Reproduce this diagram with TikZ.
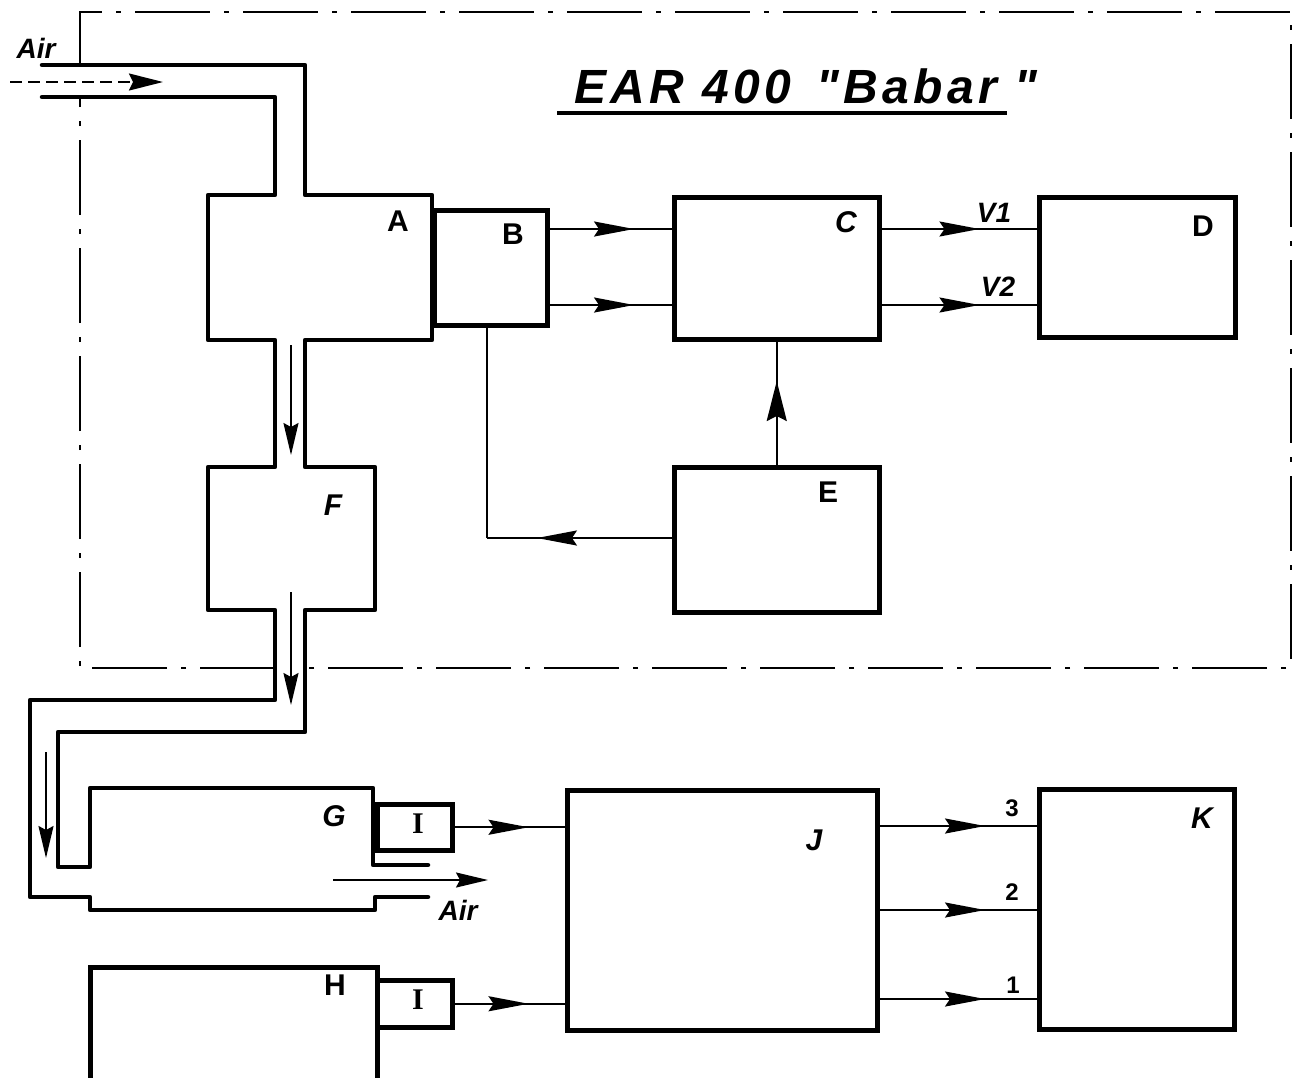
\documentclass[tikz,border=0pt]{standalone}
\usepackage{fontspec}
\setmainfont{Liberation Sans}
\newfontfamily\serifI{Liberation Serif}
\newfontfamily\titlefont[LetterSpace=9]{Liberation Sans}
\usetikzlibrary{arrows.meta,decorations.markings,calc}
\begin{document}
\begin{tikzpicture}[x=1pt,y=-1pt,
  wall/.style={line width=4.5pt, line join=round, line cap=round},
  box/.style={draw, line width=4.5pt, rectangle, inner sep=0pt, anchor=north west},
  area/.style={rectangle, inner sep=0pt, anchor=north west},
  conn/.style={line width=2pt},
  midarrow/.style={postaction={decorate}, decoration={markings, mark=at position #1 with {\arrow{Stealth[length=40pt,width=15pt,inset=5pt]}}}},
  flow/.style={line width=2pt, -{Stealth[length=32pt,width=15pt,inset=4pt]}},
  lbl/.style={font=\fontsize{30}{30}\selectfont\bfseries, inner sep=0pt},
  ilbl/.style={font=\fontsize{30}{30}\selectfont\bfseries\itshape, inner sep=0pt},
  small/.style={font=\fontsize{24}{24}\selectfont\bfseries, inner sep=0pt},
  airlbl/.style={font=\fontsize{28}{28}\selectfont\bfseries\itshape, inner sep=0pt},
  frameline/.style={line width=2.5pt, dash pattern=on 75pt off 14pt on 5pt off 14pt}
]
\useasboundingbox (0,0) rectangle (1293,1077);
\clip (0,0) rectangle (1293,1077);
\fill[white] (0,0) rectangle (1293,1077);

% dash-dot frame
\draw[frameline] (80,65) -- (80,12) -- (1291,12) -- (1291,668) -- (305,668);
\draw[frameline] (275,668) -- (80,668) -- (80,97);

% title
\node[font=\fontsize{48}{48}\selectfont\titlefont\bfseries\itshape, inner sep=0pt] (title) at (806,86) {EAR 400 \,"Babar "};
\draw[line width=3.5pt] (557,113) -- (1007,113);

% named areas
\node[area, minimum width=224pt, minimum height=145pt] (A) at (208,195) {};
\node[area, minimum width=167pt, minimum height=143pt] (F) at (208,467) {};
\node[area, minimum width=285pt, minimum height=122pt] (G) at (90,788) {};

% boxes
\node[box, minimum width=113pt, minimum height=115pt] (B) at (432,208) {};
\node[box, minimum width=205pt, minimum height=142pt] (C) at (672,195) {};
\node[box, minimum width=196pt, minimum height=140pt] (D) at (1037,195) {};
\node[box, minimum width=205pt, minimum height=145pt] (E) at (672,465) {};
\node[box, minimum width=287pt, minimum height=140pt] (H) at (88,965) {};
\node[box, minimum width=75pt, minimum height=46pt] (I1) at (375,802) {};
\node[box, minimum width=75pt, minimum height=47pt] (I2) at (375,978) {};
\node[box, minimum width=310pt, minimum height=240pt] (J) at (565,788) {};
\node[box, minimum width=195pt, minimum height=240pt] (K) at (1037,787) {};

% air duct walls and chambers A, F, G
\draw[wall] (42,65) -- (305,65) -- (305,195) -- (432,195) -- (432,340) -- (305,340) -- (305,467)
  -- (375,467) -- (375,610) -- (305,610) -- (305,732) -- (58,732) -- (58,867) -- (90,867)
  -- (90,788) -- (373,788) -- (373,865) -- (428,865);
\draw[wall] (42,97) -- (275,97) -- (275,195) -- (208,195) -- (208,340) -- (275,340) -- (275,467)
  -- (208,467) -- (208,610) -- (275,610) -- (275,700) -- (30,700) -- (30,897) -- (90,897)
  -- (90,910) -- (375,910) -- (375,897) -- (428,897);

% air flow arrows
\draw[line width=2pt, dash pattern=on 12pt off 6pt, -{Stealth[length=34pt,width=17pt,inset=4pt]}] (10,82) -- (163,82);
\draw[flow] (291,345) -- (291,455);
\draw[flow] (291,592) -- (291,705);
\draw[flow] (46,752) -- (46,858);
\draw[flow] (333,880) -- (488,880);
\node[airlbl] (air1) at (36,48) {Air};
\node[airlbl] (air2) at (458,910) {Air};

% signal connectors
\coordinate (r1) at (0,229);
\coordinate (r2) at (0,305);
\coordinate (k3) at (0,826);
\coordinate (k2) at (0,910);
\coordinate (k1) at (0,999);
\coordinate (fb) at (487,538);
\draw[conn, midarrow=0.69] (B.east |- r1) -- (C.west |- r1);
\draw[conn, midarrow=0.69] (B.east |- r2) -- (C.west |- r2);
\draw[conn, midarrow=0.63] (C.east |- r1) -- (D.west |- r1);
\draw[conn, midarrow=0.63] (C.east |- r2) -- (D.west |- r2);
\draw[conn, postaction={decorate}, decoration={markings, mark=at position 0.68 with {\arrow{Stealth[length=40pt,width=20pt,inset=5pt]}}}] (E.north) -- (C.south);
\draw[conn, midarrow=0.73] (E.west |- fb) -- (fb);
\draw[conn] (fb) -- (B.south -| fb);
\draw[conn, midarrow=0.67] (I1.east) -- (J.west |- I1.east);
\draw[conn, midarrow=0.67] (I2.east) -- (J.west |- I2.east);
\draw[conn, midarrow=0.67] (J.east |- k3) -- (K.west |- k3);
\draw[conn, midarrow=0.67] (J.east |- k2) -- (K.west |- k2);
\draw[conn, midarrow=0.67] (J.east |- k1) -- (K.west |- k1);

% labels
\node[lbl] (lA) at (398,221) {A};
\node[lbl] (lB) at (513,234) {B};
\node[ilbl] (lC) at (846,222) {C};
\node[lbl] (lD) at (1203,226) {D};
\node[lbl] (lE) at (828,492) {E};
\node[ilbl] (lF) at (333,505) {F};
\node[ilbl] (lG) at (334,816) {G};
\node[lbl] (lH) at (335,985) {H};
\node[lbl,font=\fontsize{30}{30}\selectfont\serifI\bfseries] (lI1) at (418,824) {I};
\node[lbl,font=\fontsize{30}{30}\selectfont\serifI\bfseries] (lI2) at (418,1000) {I};
\node[ilbl] (lJ) at (814,840) {J};
\node[ilbl] (lK) at (1202,818) {K};
\node[airlbl] (v1) at (994,213) {V1};
\node[airlbl] (v2) at (998,287) {V2};
\node[small] (n3) at (1012,808) {3};
\node[small] (n2) at (1012,892) {2};
\node[small] (n1) at (1013,985) {1};
\end{tikzpicture}
\end{document}
